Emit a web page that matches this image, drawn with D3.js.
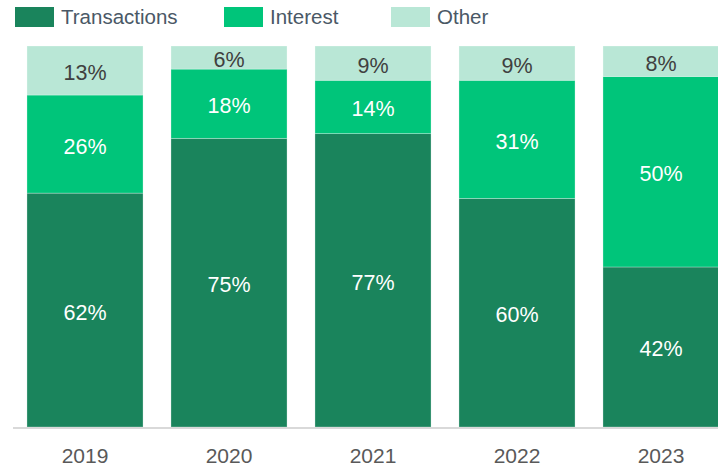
<!DOCTYPE html>
<html><head><meta charset="utf-8">
<script src="https://cdn.jsdelivr.net/npm/d3@7"></script>
<style>html,body{margin:0;padding:0;background:#fff;overflow:hidden}</style>
</head><body>
<svg id="c" width="718" height="469"></svg>
<script>
const years = ["2019","2020","2021","2022","2023"];
const seriesNames = ["Transactions","Interest","Other"];
const transactions = [62,75,77,60,42];
const interest = [26,18,14,31,50];
const other = [13,6,9,9,8];
const colors = ["#1a845c","#00c57a","#b9e7d6"];
const labelColors = ["#ffffff","#ffffff","#404040"];

const rows = years.map((y,i)=>({year:y, Transactions:transactions[i], Interest:interest[i], Other:other[i]}));
const stack = d3.stack().keys(seriesNames).offset(d3.stackOffsetExpand);
const layers = stack(rows);

const svg = d3.select("#c");
const font = "'Liberation Sans', Arial, sans-serif";
const x = d3.scaleBand().domain(years).range([13,733]).paddingInner(0.194).paddingOuter(0.097);
const y = d3.scaleLinear().domain([0,1]).range([427,46]);

const g = svg.append("g");
layers.forEach((layer,k)=>{
  g.selectAll(null).data(layer).enter().append("rect")
    .attr("x",d=>x(d.data.year))
    .attr("width",x.bandwidth())
    .attr("y",d=>y(d[1]))
    .attr("height",d=>y(d[0])-y(d[1]))
    .attr("fill",colors[k])
    .attr("stroke","#ffffff").attr("stroke-opacity",0.35).attr("stroke-width",0.8);
  g.selectAll(null).data(layer).enter().append("text")
    .attr("x",d=>x(d.data.year)+x.bandwidth()/2)
    .attr("y",d=>(y(d[0])+y(d[1]))/2)
    .attr("dy","0.44em")
    .attr("text-anchor","middle")
    .attr("font-family",font).attr("font-size",21.5)
    .attr("fill",labelColors[k])
    .text(d=>d.data[seriesNames[k]]+"%");
});

// axis
const axis = svg.append("g").attr("transform","translate(0,427)")
  .call(d3.axisBottom(x).tickSize(0).tickPadding(21));
axis.select(".domain").attr("stroke","#d9d9d9").attr("stroke-width",2).attr("d","M13,1H718");
axis.selectAll("text").attr("font-family",font).attr("font-size",21).attr("fill","#595959");

// legend
const legX = [15,224,391];
const leg = svg.append("g");
seriesNames.forEach((n,i)=>{
  leg.append("rect").attr("x",legX[i]).attr("y",7).attr("width",39).attr("height",20).attr("fill",colors[i]);
  leg.append("text").attr("x",legX[i]+46).attr("y",17).attr("dy","0.36em")
    .attr("font-family",font).attr("font-size",20.5).attr("fill","#4a5866").text(n);
});
</script>
</body></html>
